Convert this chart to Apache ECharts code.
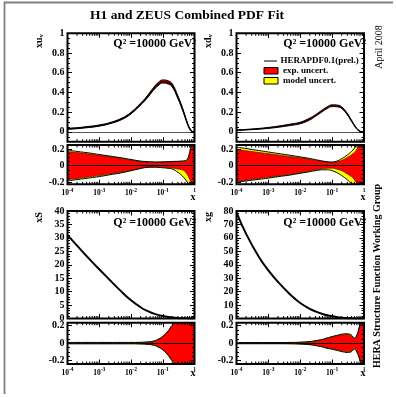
<!DOCTYPE html>
<html><head><meta charset="utf-8">
<script src="https://cdn.jsdelivr.net/npm/echarts@6/dist/echarts.min.js"></script>
<style>html,body{margin:0;padding:0;background:#fff}#c{width:396px;height:397px}</style>
</head><body><div id="c"></div>
<script>
// ---------- data ----------
const xs = [1e-4, 2e-4, 5e-4, 1e-3, 2e-3, 5e-3, 1e-2, 2e-2, 3e-2, 5e-2, 7e-2, 0.1, 0.15, 0.2, 0.3, 0.4, 0.5, 0.6, 0.7, 0.8, 0.9, 1];
const xMinorTicks = [2e-4,3e-4,4e-4,5e-4,6e-4,7e-4,8e-4,9e-4, 2e-3,3e-3,4e-3,5e-3,6e-3,7e-3,8e-3,9e-3, 2e-2,3e-2,4e-2,5e-2,6e-2,7e-2,8e-2,9e-2, 0.2,0.3,0.4,0.5,0.6,0.7,0.8,0.9];

// xu_v
const xuv   = [0.030,0.037,0.050,0.064,0.085,0.130,0.190,0.280,0.340,0.430,0.480,0.510,0.500,0.470,0.350,0.250,0.160,0.085,0.035,0.010,0.001,0];
const xuvHi = [0.035,0.042,0.056,0.070,0.091,0.137,0.198,0.290,0.352,0.445,0.497,0.527,0.518,0.487,0.365,0.262,0.168,0.090,0.038,0.012,0.002,0];
const xuvLo = [0.025,0.032,0.045,0.058,0.079,0.123,0.182,0.272,0.331,0.418,0.466,0.495,0.484,0.455,0.337,0.238,0.150,0.077,0.030,0.007,0,0];
// xd_v
const xdv   = [0.017,0.022,0.031,0.040,0.052,0.072,0.090,0.130,0.165,0.215,0.245,0.265,0.262,0.245,0.180,0.115,0.065,0.030,0.011,0.003,0,0];
const xdvHi = [0.020,0.025,0.035,0.045,0.058,0.079,0.098,0.140,0.174,0.224,0.254,0.274,0.271,0.254,0.188,0.122,0.070,0.034,0.013,0.004,0.001,0];
const xdvLo = [0.014,0.019,0.027,0.035,0.046,0.065,0.082,0.121,0.157,0.206,0.236,0.256,0.253,0.236,0.172,0.108,0.060,0.026,0.009,0.002,0,0];
// xS, xg
const xS = [31.0,27.1,22.0,18.3,14.7,10.0,6.8,4.2,3.0,1.9,1.35,0.95,0.6,0.42,0.22,0.12,0.07,0.035,0.015,0.005,0.001,0];
const xg = [79,63,46,35.8,27.2,17.5,11.5,7.2,5.3,3.4,2.4,1.6,0.95,0.6,0.25,0.1,0.04,0.015,0.004,0.001,0,0];

// relative uncertainties (ratio panels): exp. (red) and total exp.+model (yellow)
const uvExpHi = [0.170,0.158,0.140,0.125,0.110,0.088,0.068,0.050,0.045,0.042,0.042,0.044,0.046,0.048,0.050,0.052,0.055,0.070,0.140,0.230,0.250,0.250];
const uvTotHi = [0.190,0.172,0.153,0.135,0.118,0.095,0.075,0.056,0.050,0.046,0.045,0.047,0.049,0.051,0.053,0.056,0.060,0.080,0.160,0.250,0.250,0.250];
const uvExpLo = [-0.170,-0.155,-0.135,-0.120,-0.102,-0.078,-0.055,-0.030,-0.018,-0.015,-0.017,-0.020,-0.024,-0.028,-0.040,-0.050,-0.070,-0.110,-0.160,-0.210,-0.225,-0.225];
const uvTotLo = [-0.185,-0.168,-0.148,-0.132,-0.112,-0.086,-0.061,-0.035,-0.022,-0.019,-0.021,-0.025,-0.032,-0.040,-0.080,-0.120,-0.160,-0.200,-0.225,-0.225,-0.225,-0.225];

const dvExpHi = [0.195,0.180,0.160,0.145,0.130,0.110,0.095,0.078,0.066,0.052,0.044,0.040,0.050,0.065,0.100,0.130,0.160,0.200,0.250,0.250,0.250,0.250];
const dvTotHi = [0.225,0.207,0.183,0.165,0.148,0.125,0.106,0.087,0.073,0.057,0.048,0.044,0.060,0.085,0.130,0.170,0.210,0.250,0.250,0.250,0.250,0.250];
const dvExpLo = [-0.190,-0.175,-0.155,-0.140,-0.125,-0.105,-0.085,-0.065,-0.052,-0.038,-0.032,-0.030,-0.045,-0.060,-0.100,-0.130,-0.170,-0.210,-0.225,-0.225,-0.225,-0.225];
const dvTotLo = [-0.200,-0.185,-0.165,-0.150,-0.133,-0.112,-0.092,-0.072,-0.060,-0.050,-0.050,-0.060,-0.090,-0.120,-0.170,-0.210,-0.225,-0.225,-0.225,-0.225,-0.225,-0.225];

const sExpHi = [0.004,0.004,0.004,0.004,0.004,0.004,0.004,0.006,0.010,0.020,0.040,0.075,0.140,0.200,0.245,0.245,0.245,0.245,0.245,0.245,0.245,0.245];
const sTotHi = [0.008,0.008,0.008,0.008,0.008,0.008,0.008,0.010,0.013,0.023,0.043,0.078,0.143,0.205,0.245,0.245,0.245,0.245,0.245,0.245,0.245,0.245];
const sExpLo = [-0.004,-0.004,-0.004,-0.004,-0.004,-0.004,-0.004,-0.006,-0.010,-0.020,-0.040,-0.075,-0.140,-0.200,-0.245,-0.245,-0.245,-0.245,-0.245,-0.245,-0.245,-0.245];
const sTotLo = [-0.008,-0.008,-0.008,-0.008,-0.008,-0.008,-0.008,-0.010,-0.013,-0.023,-0.043,-0.078,-0.143,-0.205,-0.245,-0.245,-0.245,-0.245,-0.245,-0.245,-0.245,-0.245];

const gExpHi = [0.004,0.004,0.004,0.004,0.004,0.005,0.008,0.015,0.025,0.040,0.055,0.070,0.085,0.095,0.100,0.085,0.050,0.090,0.170,0.245,0.245,0.245];
const gTotHi = [0.007,0.007,0.007,0.007,0.007,0.008,0.011,0.018,0.028,0.044,0.060,0.076,0.092,0.103,0.108,0.094,0.058,0.095,0.175,0.245,0.245,0.245];
const gExpLo = [-0.004,-0.004,-0.004,-0.004,-0.004,-0.005,-0.008,-0.015,-0.025,-0.040,-0.055,-0.065,-0.080,-0.090,-0.100,-0.090,-0.060,-0.100,-0.160,-0.220,-0.245,-0.245];
const gTotLo = [-0.007,-0.007,-0.007,-0.007,-0.007,-0.008,-0.011,-0.018,-0.028,-0.044,-0.060,-0.070,-0.086,-0.097,-0.108,-0.099,-0.068,-0.105,-0.165,-0.225,-0.245,-0.245];

// tick labels
const yTicksPDFv = [0, 0.2, 0.4, 0.6, 0.8, 1];
const yMinorPDFv = [-0.05,0.05,0.1,0.15,0.25,0.3,0.35,0.45,0.5,0.55,0.65,0.7,0.75,0.85,0.9,0.95];
const yTicksRatio = [-0.2, 0, 0.2];
const yMinorRatio = [-0.15,-0.1,-0.05,0.05,0.1,0.15];
const yTicksS = [0,5,10,15,20,25,30,35,40];
const yMinorS = [1,2,3,4,6,7,8,9,11,12,13,14,16,17,18,19,21,22,23,24,26,27,28,29,31,32,33,34,36,37,38,39];
const yTicksG = [0,10,20,30,40,50,60,70,80];
const yMinorG = [2,4,6,8,12,14,16,18,22,24,26,28,32,34,36,38,42,44,46,48,52,54,56,58,62,64,66,68,72,74,76,78];

// ---------- chart ----------
const FONT = '"Liberation Serif","Times New Roman",serif';
const chart = echarts.init(document.getElementById('c'), null, {renderer:'canvas', width:396, height:397});
const grids = [], xAxis = [], yAxis = [], series = [];

const xRich = {
  b: {fontFamily: FONT, fontWeight: 'bold', fontSize: 7.5, color: '#000', verticalAlign: 'bottom'},
  s: {fontFamily: FONT, fontWeight: 'bold', fontSize: 5.5, color: '#000', verticalAlign: 'top', padding: [0,0,4,0]}
};
function xFmt(v){ const e = Math.round(Math.log10(v)); return e === 0 ? '{s|1}' : '{b|10}{s|' + e + '}'; }

function addPanel(p){
  const gi = grids.length;
  grids.push({left:p.left, top:p.top, width:p.width, height:p.height, show:true, borderColor:'#000', borderWidth:2,
              backgroundColor:'rgba(0,0,0,0)', z:12, outerBoundsMode:'none', containLabel:false});
  const xi = xAxis.length;
  ['bottom','top'].forEach(pos => {
    xAxis.push({type:'log', logBase:10, min:1e-4, max:1, gridIndex:gi, position:pos, z:10,
      axisLine:{show:false, onZero:false}, splitLine:{show:false}, minorTick:{show:false},
      axisTick:{show:true, inside:true, length:4.5, lineStyle:{color:'#000', width:1}},
      axisLabel:{show: pos==='bottom' && !!p.xLabels, margin:3, formatter:xFmt, rich:xRich, showMinLabel:true, showMaxLabel:true}});
  });
  const yi = yAxis.length;
  ['left','right'].forEach(pos => {
    const base = {type:'value', min:p.ymin, max:p.ymax, gridIndex:gi, position:pos, z:10, axisLine:{show:false, onZero:false}, splitLine:{show:false}};
    yAxis.push(Object.assign({}, base, {
      axisTick:{show:true, inside:true, length:4.5, customValues:p.yMajor, lineStyle:{color:'#000', width:1}},
      axisLabel:{show: pos==='left', customValues:p.yMajor, margin:3, fontSize:10, fontWeight:'bold', fontFamily:FONT, color:'#000',
                 formatter: v => String(v)}}));
    yAxis.push(Object.assign({}, base, {
      axisTick:{show:true, inside:true, length:2.5, customValues:p.yMinor, lineStyle:{color:'#000', width:1}},
      axisLabel:{show:false}}));
  });
  // log minor ticks on top and bottom edges
  series.push({type:'custom', xAxisIndex:xi, yAxisIndex:yi, z:10, silent:true, clip:false,
    data: xMinorTicks.map(v => [v]),
    renderItem: (params, api) => {
      const v = api.value(0);
      const pb = api.coord([v, p.ymin]), pt = api.coord([v, p.ymax]);
      return {type:'group', children:[
        {type:'line', shape:{x1:pb[0], y1:pb[1], x2:pb[0], y2:pb[1]-2.5}, style:{stroke:'#000', lineWidth:1}},
        {type:'line', shape:{x1:pt[0], y1:pt[1], x2:pt[0], y2:pt[1]+2.5}, style:{stroke:'#000', lineWidth:1}}
      ]};
    }});
  return {xi, yi};
}

function pts(ys){ return xs.map((x,i) => [x, ys[i]]); }
function lineS(ref, ys, color, width, z, fill){
  const s = {type:'line', xAxisIndex:ref.xi, yAxisIndex:ref.yi, data:pts(ys), symbol:'none', showSymbol:false,
    smooth:0.45, lineStyle:{color:color, width:width}, z:z, silent:true, animation:false};
  if (fill) { s.areaStyle = {color:fill, opacity:1, origin:'start'}; }
  return series.push(s);
}
function zeroLine(ref, color, width){
  series.push({type:'line', xAxisIndex:ref.xi, yAxisIndex:ref.yi, data:[], z:9, silent:true,
    markLine:{silent:true, symbol:'none', animation:false, label:{show:false},
      lineStyle:{color:color, width:width, type:'solid'}, data:[{yAxis:0}]}});
}
function ratioBands(ref, expLo, expHi, totLo, totHi){
  lineS(ref, totHi, 'rgba(0,0,0,0)', 0, 2, '#ffff00');
  lineS(ref, expHi, 'rgba(0,0,0,0)', 0, 3, '#ff0000');
  lineS(ref, expLo, 'rgba(0,0,0,0)', 0, 4, '#ffff00');
  lineS(ref, totLo, 'rgba(0,0,0,0)', 0, 5, '#ffffff');
  lineS(ref, expHi, '#3a2000', 0.7, 6);
  lineS(ref, expLo, '#3a2000', 0.7, 6);
  lineS(ref, totHi, '#000', 1, 7);
  lineS(ref, totLo, '#000', 1, 7);
  zeroLine(ref, '#000', 1.2);
}

// panel geometry
const L1 = 67.5, W1 = 127, L2 = 236.5, W2 = 127.5;
const TM = 33.3, HM = 108.4, TR = 145, HR = 39.3;
const BM = 211, HBM = 107.5, BR = 322.7, HBR = 41.3;

// top-left: xu_v
let r = addPanel({left:L1, top:TM, width:W1, height:HM, ymin:-0.1, ymax:1, yMajor:yTicksPDFv, yMinor:yMinorPDFv});
lineS(r, xuvHi, 'rgba(0,0,0,0)', 0, 3, '#ff0000');
lineS(r, xuvLo, 'rgba(0,0,0,0)', 0, 4, '#ffffff');
zeroLine(r, '#555', 1);
lineS(r, xuvHi, '#000', 1, 6); lineS(r, xuvLo, '#000', 1, 6); lineS(r, xuv, '#000', 1.2, 7);
r = addPanel({left:L1, top:TR, width:W1, height:HR, ymin:-0.225, ymax:0.25, yMajor:yTicksRatio, yMinor:yMinorRatio, xLabels:true});
ratioBands(r, uvExpLo, uvExpHi, uvTotLo, uvTotHi);

// top-right: xd_v
r = addPanel({left:L2, top:TM, width:W2, height:HM, ymin:-0.1, ymax:1, yMajor:yTicksPDFv, yMinor:yMinorPDFv});
lineS(r, xdvHi, 'rgba(0,0,0,0)', 0, 3, '#ff0000');
lineS(r, xdvLo, 'rgba(0,0,0,0)', 0, 4, '#ffffff');
zeroLine(r, '#555', 1);
lineS(r, xdvHi, '#000', 1, 6); lineS(r, xdvLo, '#000', 1, 6); lineS(r, xdv, '#000', 1, 7);
r = addPanel({left:L2, top:TR, width:W2, height:HR, ymin:-0.225, ymax:0.25, yMajor:yTicksRatio, yMinor:yMinorRatio, xLabels:true});
ratioBands(r, dvExpLo, dvExpHi, dvTotLo, dvTotHi);

// bottom-left: xS
r = addPanel({left:L1, top:BM, width:W1, height:HBM, ymin:0, ymax:40, yMajor:yTicksS, yMinor:yMinorS});
lineS(r, xS, '#000', 2, 7);
r = addPanel({left:L1, top:BR, width:W1, height:HBR, ymin:-0.24, ymax:0.235, yMajor:yTicksRatio, yMinor:yMinorRatio, xLabels:true});
ratioBands(r, sExpLo, sExpHi, sTotLo, sTotHi);

// bottom-right: xg
r = addPanel({left:L2, top:BM, width:W2, height:HBM, ymin:0, ymax:80, yMajor:yTicksG, yMinor:yMinorG});
lineS(r, xg, '#000', 2, 7);
r = addPanel({left:L2, top:BR, width:W2, height:HBR, ymin:-0.24, ymax:0.235, yMajor:yTicksRatio, yMinor:yMinorRatio, xLabels:true});
ratioBands(r, gExpLo, gExpHi, gTotLo, gTotHi);

// ---------- text & legend ----------
const B = {fontFamily:FONT, fontWeight:'bold', fill:'#000'};
function txt(x, y, text, size, extra){
  return {type:'text', x:x, y:y, z:20, silent:true,
    style:Object.assign({}, B, {text:text, fontSize:size, align:'left', verticalAlign:'middle'}, extra||{})};
}
const qText = 'Q\u00B2 =10000 GeV\u00B2';
const graphic = [
  {type:'polyline', z:1, silent:true, shape:{points:[[4.5, 394],[4.5, 2.5],[393, 2.5]]}, style:{fill:'none', stroke:'#808080', lineWidth:1.8}},
  txt(187, 16, 'H1 and ZEUS Combined PDF Fit', 13.5, {align:'center'}),
  txt(196, 43.5, qText, 12, {align:'right'}),
  txt(366, 43.5, qText, 12, {align:'right'}),
  txt(196, 223, qText, 12, {align:'right'}),
  txt(366, 223, qText, 12, {align:'right'}),
  // y titles (rotated)
  {type:'text', x:39.5, y:41, rotation:Math.PI/2, z:20, silent:true,
   style:{text:'{a|xu}{b|v}', align:'center', verticalAlign:'middle', rich:{a:Object.assign({}, B, {fontSize:10}), b:Object.assign({}, B, {fontSize:7, padding:[4,0,0,0]})}}},
  {type:'text', x:208.5, y:41, rotation:Math.PI/2, z:20, silent:true,
   style:{text:'{a|xd}{b|v}', align:'center', verticalAlign:'middle', rich:{a:Object.assign({}, B, {fontSize:10}), b:Object.assign({}, B, {fontSize:7, padding:[4,0,0,0]})}}},
  {type:'text', x:39, y:217.5, rotation:Math.PI/2, z:20, silent:true, style:Object.assign({}, B, {text:'xS', fontSize:10, align:'center', verticalAlign:'middle'})},
  {type:'text', x:208, y:217, rotation:Math.PI/2, z:20, silent:true, style:Object.assign({}, B, {text:'xg', fontSize:10, align:'center', verticalAlign:'middle'})},
  // x titles
  txt(193, 197.5, 'x', 10, {align:'center'}),
  txt(363, 197.5, 'x', 10, {align:'center'}),
  txt(193, 373.5, 'x', 10, {align:'center'}),
  txt(363, 373.5, 'x', 10, {align:'center'}),
  // right side texts
  {type:'text', x:379, y:47, rotation:Math.PI/2, z:20, silent:true, style:{text:'April 2008', fontFamily:FONT, fontSize:10, fill:'#000', align:'center', verticalAlign:'middle'}},
  {type:'text', x:377, y:276, rotation:Math.PI/2, z:20, silent:true, style:Object.assign({}, B, {text:'HERA Structure Function Working Group', fontSize:10, align:'center', verticalAlign:'middle'})},
  // legend
  {type:'line', z:20, silent:true, shape:{x1:264, y1:61, x2:277, y2:61}, style:{stroke:'#808080', lineWidth:2}},
  {type:'rect', z:20, silent:true, shape:{x:264, y:67.5, width:14, height:6.5}, style:{fill:'#ff0000', stroke:'#000', lineWidth:1}},
  {type:'rect', z:20, silent:true, shape:{x:264, y:77.5, width:14, height:6.5}, style:{fill:'#ffff00', stroke:'#000', lineWidth:1}},
  txt(280.5, 61, 'HERAPDF0.1(prel.)', 9),
  txt(283, 70.8, 'exp. uncert.', 9),
  txt(283, 81, 'model uncert.', 9)
];

chart.setOption({
  animation:false,
  backgroundColor:'#ffffff',
  grid:grids, xAxis:xAxis, yAxis:yAxis, series:series, graphic:graphic
});
</script>
</body></html>
